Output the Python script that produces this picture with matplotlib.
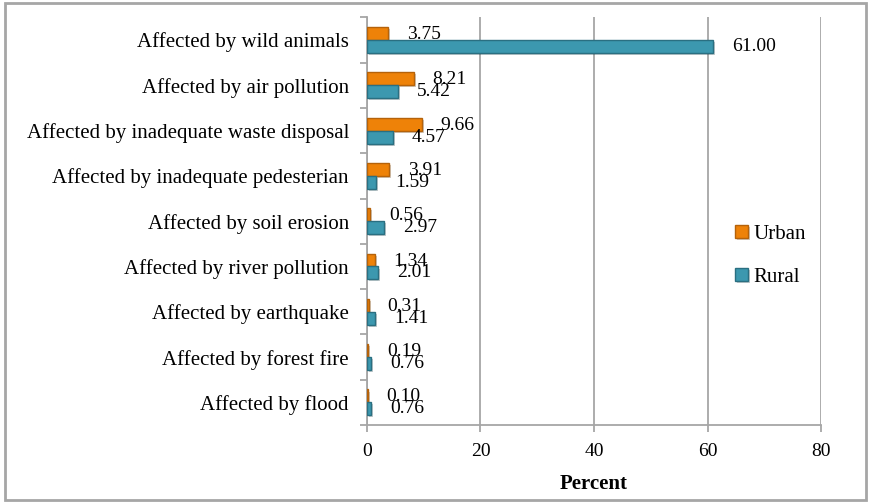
import matplotlib
matplotlib.use("Agg")
import matplotlib.pyplot as plt
import matplotlib.patheffects as pe
from matplotlib.patches import Rectangle
import numpy as np

categories = [
    "Affected by wild animals",
    "Affected by air pollution",
    "Affected by inadequate waste disposal",
    "Affected by inadequate pedesterian",
    "Affected by soil erosion",
    "Affected by river pollution",
    "Affected by earthquake",
    "Affected by forest fire",
    "Affected by flood",
]
urban = [3.75, 8.21, 9.66, 3.91, 0.56, 1.34, 0.31, 0.19, 0.10]
rural = [61.00, 5.42, 4.57, 1.59, 2.97, 2.01, 1.41, 0.76, 0.76]
xticks = [0, 20, 40, 60, 80]

plt.rcParams['font.family'] = ['Liberation Serif', 'DejaVu Serif']

fig = plt.figure(figsize=(8.69, 5.03), dpi=100)
ax = fig.add_axes([0.4223, 0.155, 0.5225, 0.8105])

n = len(categories)
y = np.arange(n)[::-1].astype(float)
h = 0.285
shadow = [pe.SimplePatchShadow(offset=(1.5, -1.5), alpha=0.25), pe.Normal()]
ax.barh(y + h / 2, urban, height=h, color="#EE8208", edgecolor="#B5620A",
        linewidth=1.0, label="Urban", path_effects=shadow, zorder=3)
ax.barh(y - h / 2, rural, height=h, color="#3C98AF", edgecolor="#2A6F81",
        linewidth=1.0, label="Rural", path_effects=shadow, zorder=3)

for yi, u, r in zip(y, urban, rural):
    ax.annotate(f"{u:.2f}", (u, yi + h / 2), xytext=(19, -1), textcoords="offset pixels",
                ha="left", va="center", fontsize=14, zorder=4)
    ax.annotate(f"{r:.2f}", (r, yi - h / 2), xytext=(19, 0), textcoords="offset pixels",
                ha="left", va="center", fontsize=14, zorder=4)

ax.set_xlim(0, 80)
ax.set_ylim(-0.5, n - 0.5)
ax.set_xticks(xticks)
ax.set_xticklabels([str(t) for t in xticks], fontsize=14)
ax.xaxis.grid(True, color="#A6A6A6", linewidth=1.3, zorder=0)
ax.set_axisbelow(True)

ax.set_yticks(y)
ax.set_yticklabels(categories, fontsize=15)
ax.set_yticks(np.arange(-0.5, n, 1.0), minor=True)
ax.tick_params(axis="y", which="major", length=0, pad=13)
ax.tick_params(axis="y", which="minor", length=5, color="#A6A6A6", width=1.3)
ax.tick_params(axis="x", length=5, color="#A6A6A6", width=1.3, pad=8)

for s in ["top", "right"]:
    ax.spines[s].set_visible(False)
for s in ["left", "bottom"]:
    ax.spines[s].set_color("#A6A6A6")
    ax.spines[s].set_linewidth(1.3)

ax.set_xlabel("Percent", fontsize=15, fontweight="bold", labelpad=10)

leg = ax.legend(loc="center left", bbox_to_anchor=(0.77, 0.415), frameon=False,
                fontsize=15, handlelength=0.6, handleheight=0.6,
                handletextpad=0.25, labelspacing=1.15)

fig.patches.append(Rectangle((0.006, 0.006), 0.99, 0.988, transform=fig.transFigure,
                             fill=False, edgecolor="#A6A6A6", linewidth=2))

fig.savefig("out.png", dpi=100)
